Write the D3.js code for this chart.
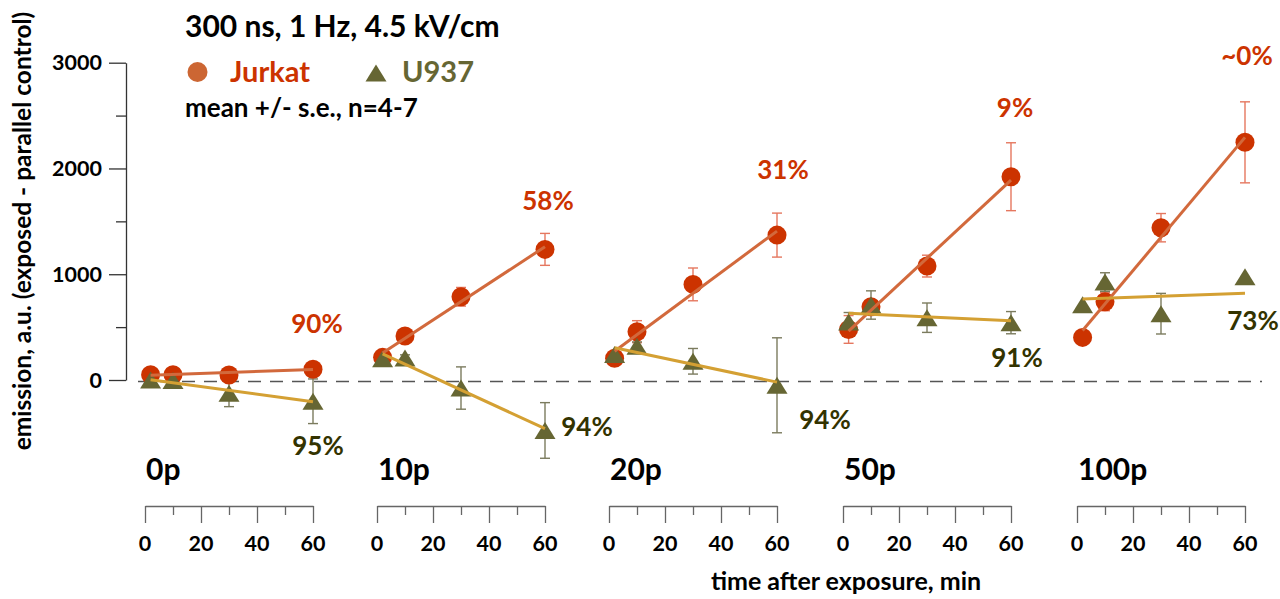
<!DOCTYPE html>
<html>
<head>
<meta charset="utf-8">
<script src="https://cdn.jsdelivr.net/npm/d3@7"></script>
<style>
  body { margin: 0; background: #fff; }
  svg { display: block; }
  text { font-family: Lato, "Open Sans", sans-serif; font-weight: bold; }
</style>
</head>
<body>
<div id="chart"></div>
<script>
// data
var panels = ["0p", "10p", "20p", "50p", "100p"];
var times = [2, 10, 30, 60];
var xTicks = [0, 10, 20, 30, 40, 50, 60];
var xTickLabels = [0, 20, 40, 60];
var yTicks = [0, 500, 1000, 1500, 2000, 2500, 3000];
var yTickLabels = [0, 1000, 2000, 3000];

var jurkatMean = [[50, 50, 47, 101], [214, 416, 787, 1235], [205, 457, 904, 1370], [478, 693, 1077, 1922], [403, 740, 1440, 2247]];
var jurkatErr = [[20, 20, 25, 35], [30, 40, 88, 151], [30, 104, 155, 208], [131, 60, 103, 321], [40, 85, 134, 383]];
var u937Mean = [[0, -5, -126, -201], [200, 208, -76, -477], [240, 320, 177, -50], [548, 709, 589, 542], [712, 926, 627, 977]];
var u937Err = [[10, 10, 126, 211], [20, 30, 200, 263], [25, 40, 121, 449], [90, 134, 139, 105], [0, 88, 192, 0]];
// trend lines (value at t=2 and t=60)
var jurkatTrend = [[45, 100], [256, 1260], [272, 1408], [463, 1890], [468, 2294]];
var u937Trend = [[3, -205], [248, -460], [305, -20], [630, 560], [766, 820]];

var jurkatPct = ["90%", "58%", "31%", "9%", "~0%"];
var u937Pct = ["95%", "94%", "94%", "91%", "73%"];

// layout
var width = 1280, height = 599;
var panelLeft = [145, 377, 609, 843, 1077];
var panelWidth = 168;
var jurkatPctPos = [[4, 333], [3, 210], [6, 179], [4, 117], [2, 65]];
var u937PctPos = [[5, 455], [42, 436], [48, 429], [6, 367], [8, 330]];

var cJurkat = "#cc3300", cJurkatLine = "#d2693c", cJurkatErr = "#e5775f";
var cU937 = "#666633", cU937Line = "#d4a033", cU937Err = "#7b7b5e", cU937Txt = "#333300";

var svg = d3.select("#chart").append("svg")
    .attr("width", width)
    .attr("height", height);

var y = d3.scaleLinear()
    .domain([0, 3000])
    .range([380, 62.7]);

// y axis
var yAxis = d3.axisLeft(y)
    .tickValues(yTicks)
    .tickSize(0)
    .tickFormat("");

var yg = svg.append("g")
    .attr("transform", "translate(126,0)")
    .call(yAxis);
yg.select(".domain").attr("stroke", "#333").attr("stroke-width", 1.3);
yg.selectAll(".tick line")
    .attr("stroke", "#333")
    .attr("stroke-width", 1.3)
    .attr("x2", function(d) { return d % 1000 === 0 ? -17 : -10; });

svg.selectAll(".ylab")
    .data(yTickLabels)
    .enter()
    .append("text")
    .attr("class", "ylab")
    .attr("x", 102)
    .attr("y", function(d) { return y(d) + 7.5; })
    .attr("text-anchor", "end")
    .style("font-size", "21.5px")
    .text(function(d) { return d; });

svg.append("text")
    .attr("transform", "rotate(-90)")
    .attr("x", -231)
    .attr("y", 31)
    .attr("text-anchor", "middle")
    .style("font-size", "24.5px")
    .text("emission, a.u. (exposed - parallel control)");

// zero line
svg.append("line")
    .attr("x1", 138)
    .attr("x2", 1262)
    .attr("y1", y(0) + 1.5)
    .attr("y2", y(0) + 1.5)
    .attr("stroke", "#555")
    .attr("stroke-width", 1.3)
    .attr("stroke-dasharray", "13,9");

var tri = "M0,-8.5L10.5,8.5L-10.5,8.5Z";

panels.forEach(function(name, p) {
    var x = d3.scaleLinear()
        .domain([0, 60])
        .range([panelLeft[p], panelLeft[p] + panelWidth]);

    // x axis bracket
    var xAxis = d3.axisBottom(x)
        .tickValues(xTicks)
        .tickSizeOuter(0)
        .tickFormat("");
    var xg = svg.append("g")
        .attr("transform", "translate(0,506)")
        .call(xAxis);
    xg.select(".domain").attr("stroke", "#666").attr("stroke-width", 1.3);
    xg.selectAll(".tick line")
        .attr("stroke", "#666")
        .attr("stroke-width", 1.3)
        .attr("y2", function(d) { return d % 20 === 0 ? 17 : 9; });

    svg.selectAll(".xlab" + p)
        .data(xTickLabels)
        .enter()
        .append("text")
        .attr("x", function(d) { return x(d); })
        .attr("y", 551)
        .attr("text-anchor", "middle")
        .style("font-size", "21.5px")
        .text(function(d) { return d; });

    svg.append("text")
        .attr("x", x(0) + 1)
        .attr("y", 480)
        .style("font-size", "30px")
        .text(name);

    var jm = jurkatMean[p], je = jurkatErr[p];
    var um = u937Mean[p], ue = u937Err[p];

    // error bars
    function errBars(mean, err, color) {
        var g = svg.append("g")
            .attr("stroke", color)
            .attr("stroke-width", 1.4);
        times.forEach(function(t, i) {
            if (!err[i]) return;
            var cx = x(t), y1 = y(mean[i] + err[i]), y2 = y(mean[i] - err[i]);
            g.append("line").attr("x1", cx).attr("x2", cx).attr("y1", y1).attr("y2", y2);
            g.append("line").attr("x1", cx - 5).attr("x2", cx + 5).attr("y1", y1).attr("y2", y1);
            g.append("line").attr("x1", cx - 5).attr("x2", cx + 5).attr("y1", y2).attr("y2", y2);
        });
    }
    errBars(jm, je, cJurkatErr);
    errBars(um, ue, cU937Err);

    svg.selectAll(".jdot" + p)
        .data(jm)
        .enter()
        .append("circle")
        .attr("cx", function(d, i) { return x(times[i]); })
        .attr("cy", function(d) { return y(d); })
        .attr("r", 9.5)
        .attr("fill", cJurkat);

    svg.selectAll(".utri" + p)
        .data(um)
        .enter()
        .append("path")
        .attr("d", tri)
        .attr("transform", function(d, i) { return "translate(" + x(times[i]) + "," + y(d) + ")"; })
        .attr("fill", cU937);

    // trend lines
    var line = d3.line()
        .x(function(d, i) { return x(i === 0 ? times[0] : times[times.length - 1]); })
        .y(function(d) { return y(d); });

    svg.append("path")
        .datum(jurkatTrend[p])
        .attr("d", line)
        .attr("fill", "none")
        .attr("stroke", cJurkatLine)
        .attr("stroke-width", 3);

    svg.append("path")
        .datum(u937Trend[p])
        .attr("d", line)
        .attr("fill", "none")
        .attr("stroke", cU937Line)
        .attr("stroke-width", 3);

    svg.append("text")
        .attr("x", x(60) + jurkatPctPos[p][0])
        .attr("y", jurkatPctPos[p][1])
        .attr("text-anchor", "middle")
        .style("font-size", "26px")
        .style("fill", cJurkat)
        .text(jurkatPct[p]);

    svg.append("text")
        .attr("x", x(60) + u937PctPos[p][0])
        .attr("y", u937PctPos[p][1])
        .attr("text-anchor", "middle")
        .style("font-size", "26px")
        .style("fill", cU937Txt)
        .text(u937Pct[p]);
});

svg.append("text")
    .attr("x", 846)
    .attr("y", 590)
    .attr("text-anchor", "middle")
    .style("font-size", "25px")
    .text("time after exposure, min");

// title and legend
svg.append("text")
    .attr("x", 185)
    .attr("y", 37)
    .style("font-size", "30px")
    .text("300 ns, 1 Hz, 4.5 kV/cm");

svg.append("circle")
    .attr("cx", 197.5)
    .attr("cy", 72)
    .attr("r", 10)
    .attr("fill", "#cc6633");
svg.append("text")
    .attr("x", 230)
    .attr("y", 82)
    .style("font-size", "29px")
    .style("fill", cJurkat)
    .text("Jurkat");

svg.append("path")
    .attr("d", tri)
    .attr("transform", "translate(376,73)")
    .attr("fill", cU937);
svg.append("text")
    .attr("x", 402)
    .attr("y", 82)
    .style("font-size", "29px")
    .style("fill", cU937)
    .text("U937");

svg.append("text")
    .attr("x", 185)
    .attr("y", 117)
    .style("font-size", "26px")
    .text("mean +/- s.e., n=4-7");
</script>
</body>
</html>
